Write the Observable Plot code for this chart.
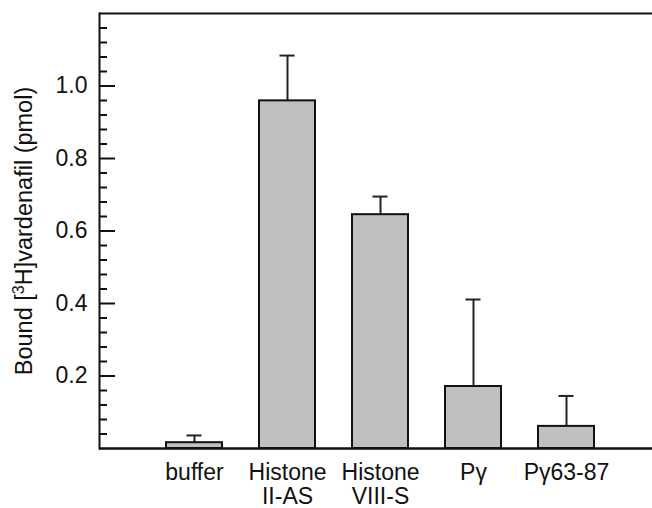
<!DOCTYPE html>
<html>
<head>
<meta charset="utf-8">
<script src="https://cdn.jsdelivr.net/npm/d3@7"></script>
<script src="https://cdn.jsdelivr.net/npm/@observablehq/plot@0.6"></script>
<style>
  html, body { margin: 0; padding: 0; background: #fff; }
</style>
</head>
<body>
<div id="chart"></div>
<script>
const categories = ["buffer", "Histone II-AS", "Histone VIII-S", "Pγ", "Pγ63-87"];
const tickLabels = ["buffer", "Histone\nII-AS", "Histone\nVIII-S", "Pγ", "Pγ63-87"];
const values = [0.016, 0.959, 0.645, 0.171, 0.061];
const errors = [0.020, 0.125, 0.050, 0.240, 0.084];
const majorTicks = [0.2, 0.4, 0.6, 0.8, 1.0];
const minorTicks = [0.04, 0.08, 0.12, 0.16, 0.24, 0.28, 0.32, 0.36, 0.44, 0.48, 0.52, 0.56,
                    0.64, 0.68, 0.72, 0.76, 0.84, 0.88, 0.92, 0.96, 1.04, 1.08, 1.12, 1.16];
const yLabel = "Bound [³H]vardenafil (pmol)";

const data = categories.map((c, i) => ({name: c, value: values[i], err: errors[i]}));
const labelOf = new Map(categories.map((c, i) => [c, tickLabels[i]]));

const chart = Plot.plot({
  width: 652,
  height: 508,
  marginLeft: 99,
  marginRight: 0,
  marginTop: 13,
  marginBottom: 60,
  style: {fontFamily: "'Liberation Sans', Arial, sans-serif", fontSize: "23px", color: "#111", background: "#fff"},
  x: {domain: categories, paddingInner: 0.4, paddingOuter: 0.2, insetLeft: 47, insetRight: 39},
  y: {domain: [0, 1.2]},
  marks: [
    Plot.ruleX(data, {x: "name", y1: "value", y2: d => d.value + d.err, stroke: "#222", strokeWidth: 2}),
    Plot.tickY(data, {x: "name", y: d => d.value + d.err, stroke: "#222", strokeWidth: 2, insetLeft: 20.5, insetRight: 20.5}),
    Plot.barY(data, {x: "name", y: "value", fill: "#c0c0c0", stroke: "#111", strokeWidth: 2}),
    Plot.axisY(minorTicks, {tickSize: -8, tickFormat: () => "", label: null, strokeWidth: 2}),
    Plot.axisY(majorTicks, {tickSize: -16, tickPadding: 28, tickFormat: d => d.toFixed(1), strokeWidth: 2,
      label: yLabel, labelAnchor: "center", labelArrow: "none", labelOffset: 84}),
    Plot.axisX({tickSize: 0, tickPadding: 14, tickFormat: d => labelOf.get(d), lineHeight: 1.05, label: null}),
    Plot.frame({anchor: "left", stroke: "#111", strokeWidth: 2}),
    Plot.ruleY([0], {stroke: "#111", strokeWidth: 2.5}),
    Plot.ruleY([1.2], {stroke: "#111", strokeWidth: 2})
  ]
});

// Render the "3" of [3H] as a true superscript
d3.select(chart).selectAll("text").each(function () {
  const t = d3.select(this);
  if (t.text() === yLabel) {
    const [pre, post] = yLabel.split("³");
    t.text(null).attr("font-size", "23.5px");
    t.append("tspan").text(pre);
    t.append("tspan").attr("baseline-shift", "super").attr("font-size", "16px").text("3");
    t.append("tspan").text(post);
  }
});

document.getElementById("chart").appendChild(chart);
</script>
</body>
</html>
